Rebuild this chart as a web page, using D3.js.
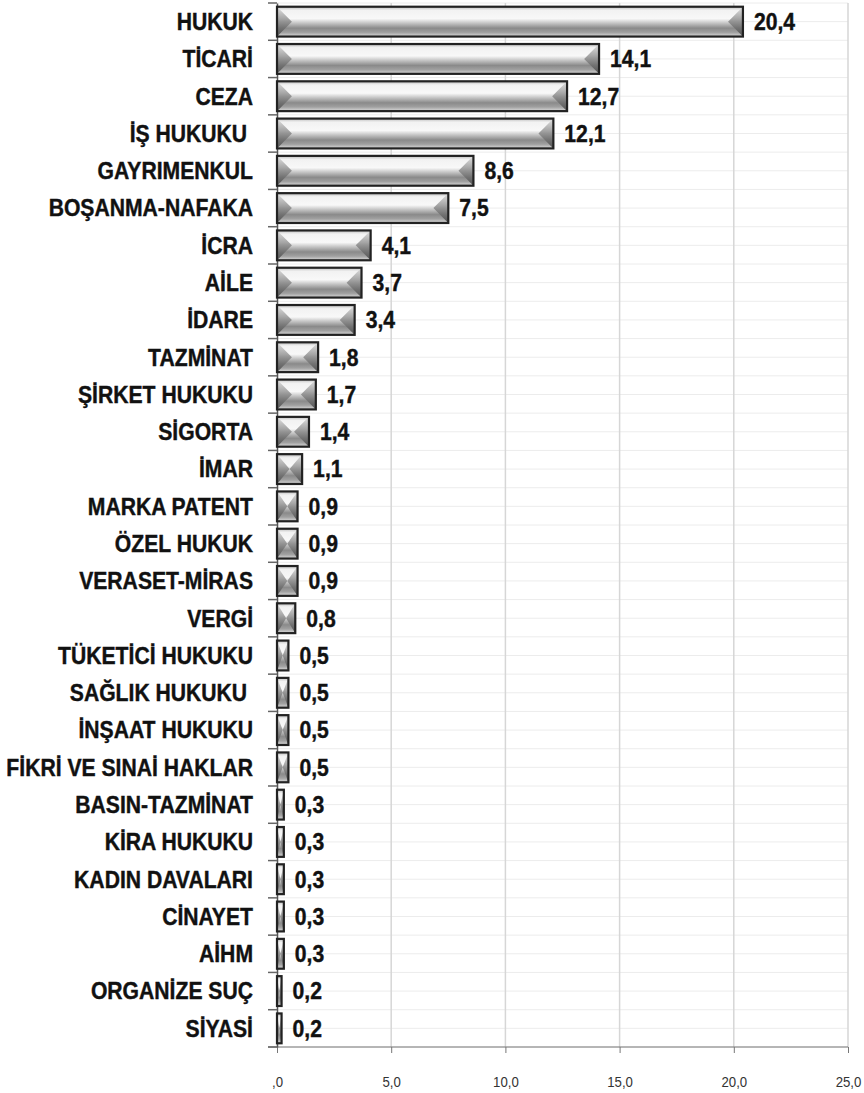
<!DOCTYPE html>
<meta charset="utf-8">
<head>
<style>
body { margin: 0; background: #fff; }
.lbl { font-family: "Liberation Sans", Arial, sans-serif; font-weight: bold; font-size: 23px; fill: #111; stroke: #111; stroke-width: 0.4px; white-space: pre; }
.val { font-family: "Liberation Sans", Arial, sans-serif; font-weight: bold; font-size: 23px; fill: #111; stroke: #111; stroke-width: 0.4px; }
.xtick { font-family: "Liberation Sans", Arial, sans-serif; font-size: 15px; fill: #333; }
</style>
</head>
<body>
<svg></svg>
<script src="https://d3js.org/d3.v7.min.js"></script>
<script>
var categories = ["HUKUK", "TİCARİ", "CEZA", "İŞ HUKUKU ", "GAYRIMENKUL", "BOŞANMA-NAFAKA",
  "İCRA", "AİLE", "İDARE", "TAZMİNAT", "ŞİRKET HUKUKU", "SİGORTA", "İMAR",
  "MARKA PATENT", "ÖZEL HUKUK", "VERASET-MİRAS", "VERGİ", "TÜKETİCİ HUKUKU",
  "SAĞLIK HUKUKU ", "İNŞAAT HUKUKU", "FİKRİ VE SINAİ HAKLAR", "BASIN-TAZMİNAT",
  "KİRA HUKUKU", "KADIN DAVALARI", "CİNAYET", "AİHM", "ORGANİZE SUÇ", "SİYASİ"];
var values = [20.4, 14.1, 12.7, 12.1, 8.6, 7.5, 4.1, 3.7, 3.4, 1.8, 1.7, 1.4, 1.1,
  0.9, 0.9, 0.9, 0.8, 0.5, 0.5, 0.5, 0.5, 0.3, 0.3, 0.3, 0.3, 0.3, 0.2, 0.2];
var tickValues = [0, 5, 10, 15, 20, 25];
var tickLabels = [",0", "5,0", "10,0", "15,0", "20,0", "25,0"];

var data = categories.map(function (c, i) { return { cat: c, v: values[i] }; });

var W = 864, H = 1093;
var mLeft = 277, mRight = 848, mTop = 3, mBottom = 1047;
var squeeze = 0.92; // condensed look for the bold labels

var svg = d3.select('svg').attr('width', W).attr('height', H);

var x = d3.scaleLinear().domain([0, 25]).range([mLeft, mRight]);
var y = d3.scaleBand().domain(categories).range([mTop, mBottom]).paddingInner(0.2).paddingOuter(0.1);
var step = y.step();

var defs = svg.append('defs');
var g1 = defs.append('linearGradient').attr('id', 'body').attr('x1', 0).attr('y1', 0).attr('x2', 0).attr('y2', 1);
[[0, '#bdbdbd'], [0.12, '#f2f2f2'], [0.4, '#f8f8f8'], [0.55, '#c4c4c4'], [0.72, '#8a8a8a'], [0.86, '#a0a0a0'], [1, '#dcdcdc']]
  .forEach(function (s) { g1.append('stop').attr('offset', s[0]).attr('stop-color', s[1]); });
var g2 = defs.append('linearGradient').attr('id', 'cap').attr('x1', 0).attr('y1', 0).attr('x2', 0).attr('y2', 1);
[[0, '#e0e0e0'], [0.5, '#8c8c8c'], [1, '#4a4a4a']]
  .forEach(function (s) { g2.append('stop').attr('offset', s[0]).attr('stop-color', s[1]); });

// light horizontal grid at every half band
var hLines = d3.range(0, categories.length * 2 + 1).map(function (k) { return mTop + k * step / 2; });
svg.append('g').selectAll('line').data(hLines).enter().append('line')
  .attr('x1', mLeft).attr('x2', mRight).attr('y1', function (d) { return d; }).attr('y2', function (d) { return d; })
  .attr('stroke', '#ececec').attr('stroke-width', 1);

// vertical grid
svg.append('g').selectAll('line').data(tickValues.slice(1)).enter().append('line')
  .attr('x1', function (d) { return x(d); }).attr('x2', function (d) { return x(d); })
  .attr('y1', mTop).attr('y2', mBottom)
  .attr('stroke', '#d6d6d6').attr('stroke-width', 1.5);

// x axis
var xAxis = svg.append('g').attr('transform', 'translate(0,' + mBottom + ')')
  .call(d3.axisBottom(x).tickValues(tickValues).tickSize(6).tickFormat(function (d, i) { return tickLabels[i]; }));
xAxis.select('.domain').attr('stroke', '#777').attr('d', 'M' + (mLeft - 9) + ',0H' + mRight);
xAxis.selectAll('.tick line').attr('stroke', '#777');
xAxis.selectAll('.tick text').attr('class', 'xtick').attr('dy', '2.05em')
  .attr('transform', 'scale(0.88,1)')
  .attr('font-family', null).attr('font-size', null).attr('fill', null);

// y axis: line + ticks at band edges
var yAxis = svg.append('g').attr('transform', 'translate(' + mLeft + ',0)')
  .call(d3.axisLeft(y).tickSize(0).tickFormat(''));
yAxis.select('.domain').attr('stroke', '#555').attr('stroke-width', 1.5);
svg.append('g').selectAll('line').data(d3.range(0, categories.length + 1)).enter().append('line')
  .attr('x1', mLeft - 9).attr('x2', mLeft)
  .attr('y1', function (k) { return mTop + k * step; }).attr('y2', function (k) { return mTop + k * step; })
  .attr('stroke', '#666').attr('stroke-width', 1.5);

// category labels
svg.append('g').selectAll('text').data(data).enter().append('text')
  .attr('class', 'lbl')
  .attr('text-anchor', 'end')
  .attr('transform', function (d) { return 'translate(253,' + (y(d.cat) + y.bandwidth() / 2) + ') scale(' + squeeze + ',1)'; })
  .attr('dy', '0.36em')
  .text(function (d) { return d.cat; });

// bars
var bars = svg.append('g').selectAll('g').data(data).enter().append('g');
bars.append('rect')
  .attr('x', x(0)).attr('y', function (d) { return y(d.cat); })
  .attr('width', function (d) { return x(d.v) - x(0); })
  .attr('height', y.bandwidth())
  .attr('fill', 'url(#body)');
bars.append('path')
  .attr('d', function (d) {
    var x0 = x(0), x1 = x(d.v), y0 = y(d.cat), h = y.bandwidth();
    var b = Math.min(h / 2, (x1 - x0) / 2);
    return 'M' + x0 + ',' + y0 + 'L' + (x0 + b) + ',' + (y0 + h / 2) + 'L' + x0 + ',' + (y0 + h) + 'Z' +
      'M' + x1 + ',' + y0 + 'L' + (x1 - b) + ',' + (y0 + h / 2) + 'L' + x1 + ',' + (y0 + h) + 'Z';
  })
  .attr('fill', 'url(#cap)').attr('opacity', 0.9);
bars.append('rect')
  .attr('x', x(0)).attr('y', function (d) { return y(d.cat); })
  .attr('width', function (d) { return x(d.v) - x(0); })
  .attr('height', y.bandwidth())
  .attr('fill', 'none').attr('stroke', '#222').attr('stroke-width', 2.2);

bars.append('text').attr('class', 'val')
  .attr('transform', function (d) { return 'translate(' + (x(d.v) + 11) + ',' + (y(d.cat) + y.bandwidth() / 2) + ') scale(' + squeeze + ',1)'; })
  .attr('dy', '0.36em')
  .text(function (d) { return d3.format('.1f')(d.v).replace('.', ','); });
</script>
</body>
</html>
